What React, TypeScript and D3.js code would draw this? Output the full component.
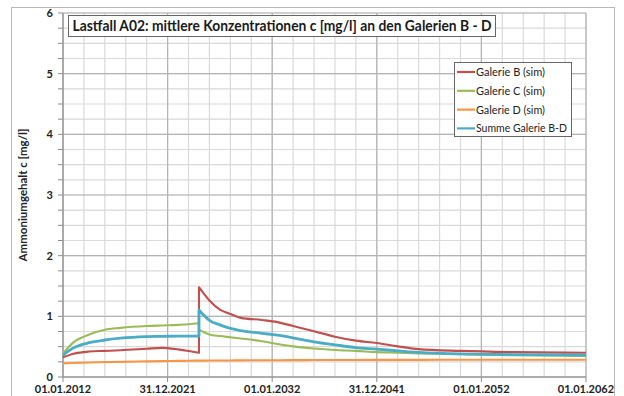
import React from "react";
import * as d3 from "d3";

// Years before the switch-over (ends at the step in 2025)
const yearsPre = [2012, 2013, 2014.5, 2016, 2017.5, 2020, 2021.5, 2023, 2024, 2025];
// Years after the switch-over (starts at the step in 2025)
const yearsPost = [2025, 2026, 2027, 2028, 2029, 2031, 2032.5, 2034, 2036, 2038, 2040, 2042, 2044, 2046, 2050, 2055, 2062];

const galerieBPre = [0.325, 0.385, 0.42, 0.43, 0.44, 0.465, 0.48, 0.455, 0.43, 0.40];
const galerieBPost = [1.48, 1.26, 1.11, 1.04, 0.975, 0.94, 0.905, 0.84, 0.755, 0.665, 0.6, 0.56, 0.505, 0.46, 0.43, 0.41, 0.4];

const galerieCPre = [0.39, 0.57, 0.7, 0.78, 0.81, 0.84, 0.85, 0.86, 0.87, 0.885];
const galerieCPost = [0.78, 0.7, 0.675, 0.655, 0.635, 0.59, 0.545, 0.505, 0.47, 0.445, 0.43, 0.41, 0.4, 0.39, 0.375, 0.36, 0.345];

const galerieDPre = [0.225, 0.232, 0.24, 0.245, 0.25, 0.258, 0.262, 0.265, 0.268, 0.27];
const galerieDPost = [0.27, 0.271, 0.272, 0.273, 0.274, 0.276, 0.277, 0.278, 0.279, 0.28, 0.281, 0.282, 0.282, 0.283, 0.284, 0.285, 0.285];

const summePre = [0.36, 0.48, 0.565, 0.61, 0.64, 0.665, 0.67, 0.675, 0.675, 0.675];
const summePost = [1.105, 0.935, 0.86, 0.8, 0.765, 0.72, 0.69, 0.645, 0.58, 0.53, 0.485, 0.46, 0.43, 0.405, 0.38, 0.37, 0.36];

const xTickYears = [2012, 2022, 2032, 2042, 2052, 2062];
const xTickLabels = ["01.01.2012", "31.12.2021", "01.01.2032", "31.12.2041", "01.01.2052", "01.01.2062"];
const yTicks = [0, 1, 2, 3, 4, 5, 6];

const seriesNames = ["Galerie B (sim)", "Galerie C (sim)", "Galerie D (sim)", "Summe Galerie B-D"];
const seriesColors = ["#c0504d", "#9bbb59", "#f79646", "#4bacc6"];
const legendTextWidths = [69, 69, 69, 91];

const titleText = "Lastfall A02: mittlere Konzentrationen c [mg/l] an den Galerien B - D";
const yAxisTitle = "Ammoniumgehalt c [mg/l]";

const W = 624;
const H = 396;
const plot = { left: 63, right: 586, top: 13, bottom: 377 };
const FONT = "Lato, 'Open Sans', sans-serif";

export default function App() {
  const x = d3.scaleLinear().domain([2012, 2062]).range([plot.left, plot.right]);
  const y = d3.scaleLinear().domain([0, 6]).range([plot.bottom, plot.top]);

  const line = d3
    .line<[number, number]>()
    .x((d) => x(d[0]))
    .y((d) => y(d[1]))
    .curve(d3.curveMonotoneX);

  // Two smooth pieces joined by a straight step at the switch-over
  const buildPath = (pre: number[], post: number[]) => {
    const a = line(yearsPre.map((t, i) => [t, pre[i]] as [number, number])) || "";
    const b = line(yearsPost.map((t, i) => [t, post[i]] as [number, number])) || "";
    return a + "L" + b.slice(1);
  };

  const series = [
    { name: seriesNames[0], color: seriesColors[0], d: buildPath(galerieBPre, galerieBPost), w: 2.1 },
    { name: seriesNames[1], color: seriesColors[1], d: buildPath(galerieCPre, galerieCPost), w: 2.1 },
    { name: seriesNames[2], color: seriesColors[2], d: buildPath(galerieDPre, galerieDPost), w: 2.1 },
    { name: seriesNames[3], color: seriesColors[3], d: buildPath(summePre, summePost), w: 2.8 },
  ];

  const minorY = d3.range(0, 6.001, 0.25);
  const minorX = d3.range(2012, 2062.001, 2);

  return (
    <svg
      width={W}
      height={H}
      style={{ position: "absolute", left: 0, top: 0, background: "#fff" }}
      fontFamily={FONT}
    >
      <rect x={0} y={0} width={W} height={H} fill="#fff" />
      <rect x={11.5} y={7.5} width={603} height={400} fill="none" stroke="#b8b8b8" strokeWidth={1} />

      {/* minor grid */}
      {minorY.map((v) => (
        <line key={"my" + v} x1={plot.left} x2={plot.right} y1={y(v)} y2={y(v)} stroke="#d9d9d9" strokeWidth={1.2} />
      ))}
      {minorX.map((v) => (
        <line key={"mx" + v} x1={x(v)} x2={x(v)} y1={plot.top} y2={plot.bottom} stroke="#d9d9d9" strokeWidth={1.2} />
      ))}
      {/* major grid */}
      {yTicks.map((v) => (
        <line key={"gy" + v} x1={plot.left} x2={plot.right} y1={y(v)} y2={y(v)} stroke="#b3b3b3" strokeWidth={1.2} />
      ))}
      {xTickYears.map((v) => (
        <line key={"gx" + v} x1={x(v)} x2={x(v)} y1={plot.top} y2={plot.bottom} stroke="#b3b3b3" strokeWidth={1.2} />
      ))}

      {/* axes */}
      <line x1={plot.left} x2={plot.left} y1={plot.top} y2={plot.bottom} stroke="#8c8c8c" strokeWidth={1} />
      <line x1={plot.left} x2={plot.right} y1={plot.bottom} y2={plot.bottom} stroke="#8c8c8c" strokeWidth={1} />
      {minorY.map((v) => (
        <line key={"ty" + v} x1={plot.left - 5} x2={plot.left} y1={y(v)} y2={y(v)} stroke="#8c8c8c" strokeWidth={1} />
      ))}
      {xTickYears.map((v) => (
        <line key={"tx" + v} x1={x(v)} x2={x(v)} y1={plot.bottom} y2={plot.bottom + 5} stroke="#8c8c8c" strokeWidth={1} />
      ))}

      {yTicks.map((v) => (
        <text key={"ly" + v} x={53} y={y(v) + 4} textAnchor="end" fontSize={11} fontWeight="bold" fill="#222">
          {v}
        </text>
      ))}
      {xTickYears.map((v, i) => (
        <text key={"lx" + v} x={x(v)} y={393} textAnchor="middle" fontSize={11} fontWeight="bold" fill="#222">
          {xTickLabels[i]}
        </text>
      ))}

      <text
        transform={`translate(27, ${(plot.top + plot.bottom) / 2}) rotate(-90)`}
        textAnchor="middle"
        fontSize={11.5}
        fontWeight="bold"
        fill="#222"
      >
        {yAxisTitle}
      </text>

      {/* series */}
      {series.map((s) => (
        <path key={s.name} d={s.d} fill="none" stroke={s.color} strokeWidth={s.w} strokeLinejoin="round" />
      ))}

      {/* title box */}
      <rect x={68.5} y={15.5} width={427} height={21} fill="#fff" stroke="#666" strokeWidth={1} />
      <text x={72.5} y={31} fontSize={14.5} fontWeight="bold" fill="#1a1a1a" textLength={419} lengthAdjust="spacingAndGlyphs">
        {titleText}
      </text>

      {/* legend */}
      <rect x={454.5} y={62.5} width={117} height={74} fill="#fff" stroke="#666" strokeWidth={1} />
      {series.map((s, i) => {
        const ly = 72 + i * 18.8;
        return (
          <g key={"lg" + s.name}>
            <line x1={457} x2={475} y1={ly} y2={ly} stroke={s.color} strokeWidth={2.2} />
            <text
              x={476}
              y={ly + 4}
              fontSize={11.5}
              fill="#222"
              textLength={legendTextWidths[i]}
              lengthAdjust="spacingAndGlyphs"
            >
              {s.name}
            </text>
          </g>
        );
      })}
    </svg>
  );
}
